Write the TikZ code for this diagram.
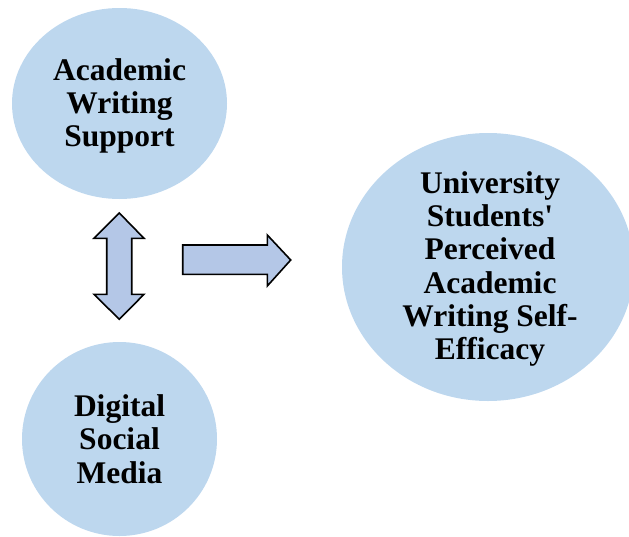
\documentclass[tikz,border=0pt]{standalone}
\usepackage{fontspec}
% straight apostrophes, as typed
\setmainfont{Liberation Serif}[Ligatures=TeXOff]
\begin{document}
\begin{tikzpicture}[x=1pt,y=-1pt,
  bubble/.style={fill=bubbleblue,draw=none},
  label/.style={font=\bfseries\fontsize{31.5}{33.3}\selectfont,align=center,inner sep=0pt,text=black},
  blockarrow/.style={fill=arrowblue,draw=black,line width=1.6pt,line join=miter}]
\definecolor{bubbleblue}{HTML}{BDD7EE}
\definecolor{arrowblue}{HTML}{B4C7E7}
\useasboundingbox (0,0) rectangle (629,536);

% the three concepts
\fill[bubble] (119.5,103.5) ellipse [x radius=107.5, y radius=95.5];
\fill[bubble] (119.5,439) ellipse [x radius=97.5, y radius=97];
\fill[bubble] (488,267) ellipse [x radius=146, y radius=134];

\node[label] (aws) at (119.5,106) {Academic\\Writing\\Support};
\node[label] (dsm) at (119.5,439) {Digital\\Social\\Media};
\node[label] (pse) at (490,269) {University\\Students'\\Perceived\\Academic\\Writing Self-\\Efficacy};

% two-headed block arrow between the left concepts
\draw[blockarrow] (119.3,213) -- (144,238.3) -- (131.7,238.3) -- (131.7,294.3)
  -- (144,294.3) -- (119.3,319.3) -- (94,294.3) -- (106.7,294.3)
  -- (106.7,238.3) -- (94,238.3) -- cycle;

% block arrow pointing to the outcome
\draw[blockarrow] (182.7,245) -- (267.3,245) -- (267.3,235) -- (290.7,260)
  -- (267.3,286) -- (267.3,274.3) -- (182.7,274.3) -- cycle;
\end{tikzpicture}
\end{document}
